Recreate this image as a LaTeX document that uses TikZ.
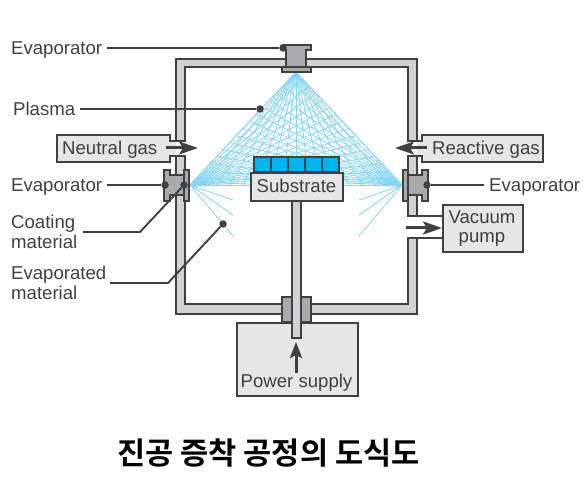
\documentclass[tikz,border=0pt]{standalone}
\usepackage{fontspec}
\setmainfont{Liberation Sans}
\newfontfamily\krfont{Noto Sans CJK KR}[BoldFont={Noto Sans CJK KR Bold}]
\usetikzlibrary{arrows.meta,calc}
\definecolor{ink}{HTML}{404040}
\definecolor{wallc}{HTML}{D0D2D4}
\definecolor{blockc}{HTML}{A8AAAC}
\definecolor{boxc}{HTML}{E6E6E6}
\definecolor{rayc}{HTML}{88D6F6}
\definecolor{cellc}{HTML}{00B4F0}
\tikzset{
  x=1pt,y=-1pt,
  wall/.style={fill=wallc,draw=ink,line width=2pt,line join=miter},
  block/.style={fill=blockc,draw=ink,line width=2pt},
  boxed/.style={fill=boxc,draw=ink,line width=2pt},
  ray/.style={draw=rayc,line width=.85pt},
  lead/.style={draw=ink,line width=1.9pt},
  dotmark/.style={circle,fill=ink,inner sep=0pt,minimum size=7.5pt},
  lab/.style={text=ink,font=\fontsize{18.6}{18.6}\selectfont,inner sep=0pt,text height=13.4pt,text depth=0pt},
  flow/.style={draw=ink,line width=3pt,-{Stealth[length=19pt,width=13pt,inset=4pt]}},
  flowup/.style={draw=ink,line width=3pt,-{Stealth[length=16pt,width=12pt,inset=3pt]}}
}
\begin{document}
\begin{tikzpicture}
\useasboundingbox (0,0) rectangle (586,494);
% plasma
\coordinate (srcL) at (190,185);
\coordinate (srcR) at (402,185);
\coordinate (apex) at (296,72);
\foreach \i in {0,...,16}{
  \pgfmathsetmacro{\t}{\i/16}
  \draw[ray] (apex) -- ($(srcL)!\t!(srcR)$);
  \draw[ray] (srcL) -- ($(apex)!\t!(srcR)$);
  \draw[ray] (srcR) -- ($(apex)!\t!(srcL)$);
}
\draw[ray] (srcL) -- (233,200);
\draw[ray] (srcL) -- (233,215);
\draw[ray] (srcL) -- (233,236);
\draw[ray] (srcR) -- (359,200);
\draw[ray] (srcR) -- (359,215);
\draw[ray] (srcR) -- (359,236);
% walls
\path[wall] (176,141)--(176,59)--(290,59)--(290,67)--(184.5,67)--(184.5,141)--cycle;
\path[wall] (417,141)--(417,59)--(290,59)--(290,67)--(407.5,67)--(407.5,141)--cycle;
\path[wall] (176,156)--(176,314)--(290,314)--(290,304)--(184.5,304)--(184.5,156)--cycle;
\path[wall] (407.5,156)--(417,156)--(417,216)--(407.5,216)--cycle;
\draw[lead] (407.5,216)--(442,216);
\path[wall] (407.5,238)--(417,238)--(417,314)--(300,314)--(300,304)--(407.5,304)--cycle;
\draw[lead] (417,238)--(442,238);
% gas boxes
\path[boxed] (176,141)--(170,141)--(170,135)--(57,135)--(57,162)--(170,162)--(170,156)--(176,156);
\path[boxed] (417,141)--(422,141)--(422,135)--(543,135)--(543,162)--(422,162)--(422,156)--(417,156);
\node[boxed,minimum width=80pt,minimum height=47pt,anchor=north west,inner sep=0pt] (pumpbox) at (442,204) {};
% evaporators
\path[block] (286,50)--(283,50)--(283,45)--(311,45)--(311,50)--(306,50)--(306,67)--(286,67)--cycle;
\path[block] (282,67) rectangle (311,72);
\path[block] (164,170)--(170,170)--(170,175)--(184,175)--(184,195)--(170,195)--(170,201)--(164,201)--cycle;
\path[block] (184,170) rectangle (189,201);
\path[block] (428,170)--(422,170)--(422,175)--(408,175)--(408,195)--(422,195)--(422,201)--(428,201)--cycle;
\path[block] (403,170) rectangle (408,201);
% power supply
\node[boxed,minimum width=121pt,minimum height=73pt,anchor=north west,inner sep=0pt] (powerbox) at (236,322) {};
\path[block] (282,297) rectangle (311,322);
% substrate
\path[wall] (292,195) rectangle (300.5,338);
\node[boxed,minimum width=92pt,minimum height=28pt,anchor=north west,inner sep=0pt] (subbox) at (250,172) {};
\foreach \k in {0,...,4}{
  \draw[fill=cellc,draw=ink,line width=2pt] (254+\k*17,157) rectangle (254+\k*17+16.6,172);
}
% flow arrows
\coordinate (nA) at (166,148); \coordinate (nB) at (198,148);
\coordinate (rA) at (427,148); \coordinate (rB) at (395,148);
\coordinate (vA) at (406,228); \coordinate (vB) at (442,228);
\coordinate (pA) at (296,373); \coordinate (pB) at (296,342);
\draw[flow] (nA)--(nB);
\draw[flow] (rA)--(rB);
\draw[flow] (vA)--(vB);
\draw[flowup] (pA)--(pB);
% box labels
\node[lab,anchor=west] (neutral) at (62,148) {Neutral gas};
\node[lab,anchor=west] (reactive) at (432,148) {Reactive gas};
\node[lab] (substrate) at (296.5,186) {Substrate};
\node[lab] (vac) at (482,217) {Vacuum};
\node[lab] (pump) at (482,236) {pump};
\node[lab] (power) at (296.5,381) {Power supply};
% callouts
\node[lab,anchor=west] (e1) at (11,48) {Evaporator};
\node[lab,anchor=west] (pl) at (13,109) {Plasma};
\node[lab,anchor=west] (e2) at (11,185) {Evaporator};
\node[lab,anchor=west] (e3) at (489,185) {Evaporator};
\node[lab,anchor=west] (c1) at (11,222) {Coating};
\node[lab,anchor=west] (c2) at (11,242) {material};
\node[lab,anchor=west] (v1) at (11,273) {Evaporated};
\node[lab,anchor=west] (v2) at (11,293) {material};
\node[dotmark] (d1) at (283,48) {};
\node[dotmark] (d2) at (260,109) {};
\node[dotmark] (d3) at (165,185) {};
\node[dotmark] (d4) at (184,185) {};
\node[dotmark] (d5) at (223,224) {};
\node[dotmark] (d6) at (427,185) {};
\coordinate (l1) at (107,48);
\coordinate (l2) at (80,109);
\coordinate (l3) at (107,185);
\coordinate (l4) at (83,232);
\coordinate (b4) at (140,232);
\coordinate (l5) at (110,283);
\coordinate (b5) at (168,283);
\coordinate (l6) at (484,185);
\draw[lead] (l1)--(d1);
\draw[lead] (l2)--(d2);
\draw[lead] (l3)--(d3);
\draw[lead] (l4)--(b4)--(d4);
\draw[lead] (l5)--(b5)--(d5);
\draw[lead] (l6)--(d6);
% caption
\node[inner sep=0pt,text=black,font=\krfont\bfseries\fontsize{30.6}{30.6}\selectfont] (title) at (268.5,453) {진공 증착 공정의 도식도};
\end{tikzpicture}
\end{document}
